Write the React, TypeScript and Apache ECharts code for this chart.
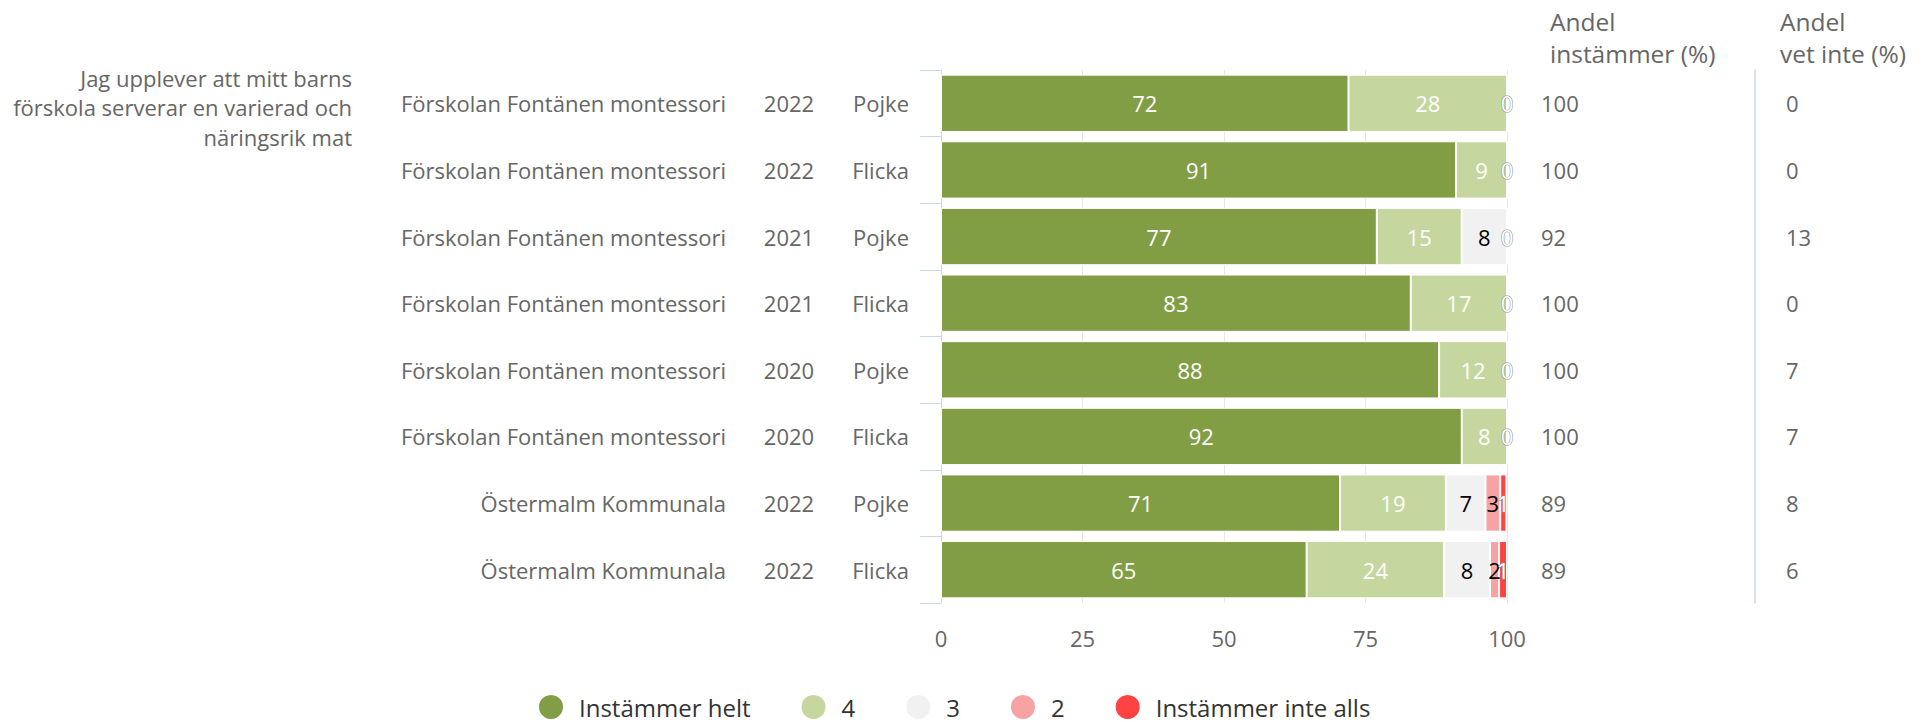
import React, { useEffect, useRef } from "react";
import * as echarts from "echarts";

const schools = [
  "Förskolan Fontänen montessori",
  "Förskolan Fontänen montessori",
  "Förskolan Fontänen montessori",
  "Förskolan Fontänen montessori",
  "Förskolan Fontänen montessori",
  "Förskolan Fontänen montessori",
  "Östermalm Kommunala",
  "Östermalm Kommunala",
];
const years = ["2022", "2022", "2021", "2021", "2020", "2020", "2022", "2022"];
const genders = ["Pojke", "Flicka", "Pojke", "Flicka", "Pojke", "Flicka", "Pojke", "Flicka"];

const seriesNames = ["Instämmer helt", "4", "3", "2", "Instämmer inte alls"];
const helt = [72, 91, 77, 83, 88, 92, 70.5, 64.6];
const fyra = [28, 9, 15, 17, 12, 8, 18.7, 24.3];
const tre = [0, 0, 8, 0, 0, 0, 7.0, 8.1];
const tva = [0, 0, 0, 0, 0, 0, 2.6, 1.6];
const inteAlls = [0, 0, 0, 0, 0, 0, 1.1, 1.4];

const andelInstammer = [100, 100, 92, 100, 100, 100, 89, 89];
const andelVetInte = [0, 0, 13, 0, 7, 7, 8, 6];

const xTicks = [0, 25, 50, 75, 100];

const question = "Jag upplever att mitt barns\nförskola serverar en varierad och\nnäringsrik mat";
const header1 = "Andel\ninstämmer (%)";
const header2 = "Andel\nvet inte (%)";

const colors = ["#829e45", "#c5d79f", "#f1f1f1", "#f8a3a3", "#ff4343"];
const FONT = "Open Sans";

export default function App() {
  const ref = useRef<HTMLDivElement>(null);
  useEffect(() => {
    document.body.style.margin = "0";
    const chart = echarts.init(ref.current!, null, { renderer: "svg" });
    const values = [helt, fyra, tre, tva, inteAlls];
    const labelColors = ["#ffffff", "#ffffff", "#000000", "#000000", "#ffffff"];
    const series = values.map((arr, si) => ({
      type: "bar",
      name: seriesNames[si],
      stack: "total",
      barCategoryGap: "14%",
      yAxisIndex: 0,
      data: arr,
      itemStyle: { color: colors[si], borderColor: "#ffffff", borderWidth: 1 },
      label: {
        show: true,
        position: "inside",
        fontFamily: FONT,
        fontSize: 22,
        color: labelColors[si],
        textBorderColor: si === 4 ? "#888888" : "transparent",
        textBorderWidth: si === 4 ? 1 : 0,
        formatter: (p: any) => {
          const v = Math.round(p.value);
          if (v === 0 && si !== 4) return "";
          return String(v);
        },
      },
    }));

    chart.setOption({
      animation: false,
      grid: { left: 941, right: 422, top: 70, bottom: 119, containLabel: false },
      legend: {
        data: seriesNames,
        left: 537,
        top: 693,
        padding: 0,
        icon: "circle",
        itemWidth: 26,
        itemHeight: 26,
        itemGap: 49,
        textStyle: { fontFamily: FONT, fontSize: 24, color: "#333333", padding: [0, 0, 0, 10] },
      },
      xAxis: {
        type: "value",
        min: xTicks[0],
        max: xTicks[xTicks.length - 1],
        interval: 25,
        axisLine: { show: false },
        axisTick: { show: false },
        splitLine: { show: true, lineStyle: { color: "#e6e6e6", width: 1 } },
        axisLabel: { fontFamily: FONT, fontSize: 22, color: "#666666", margin: 24 },
      },
      yAxis: [
        {
          type: "category",
          inverse: true,
          data: schools.map((_, i) => String(i)),
          axisLine: { show: true, lineStyle: { color: "#ccd6eb", width: 1 } },
          axisTick: { show: true, length: 21, lineStyle: { color: "#ccd6eb" } },
          axisLabel: {
            margin: 32,
            formatter: (_v: string, i: number) =>
              `{a|${schools[i]}}{b|${years[i]}}{c|${genders[i]}}`,
            rich: {
              a: { fontFamily: FONT, fontSize: 22, color: "#666666", padding: [0, 33, 0, 0] },
              b: { fontFamily: FONT, fontSize: 22, color: "#666666", width: 60, align: "center" },
              c: { fontFamily: FONT, fontSize: 22, color: "#666666", width: 90, align: "right" },
            },
          },
        },
        {
          type: "category",
          inverse: true,
          position: "right",
          data: schools.map((_, i) => String(i)),
          axisLine: { show: false },
          axisTick: { show: false },
          axisLabel: {
            margin: 34,
            align: "left",
            formatter: (_v: string, i: number) => `{a|${andelInstammer[i]}}{b|${andelVetInte[i]}}`,
            rich: {
              a: { fontFamily: FONT, fontSize: 22, color: "#666666", width: 245, align: "left" },
              b: { fontFamily: FONT, fontSize: 22, color: "#666666", align: "left" },
            },
          },
        },
        {
          type: "category",
          inverse: true,
          position: "right",
          offset: 248,
          data: schools.map((_, i) => String(i)),
          axisLine: { show: true, lineStyle: { color: "#ccd6eb", width: 1.5 } },
          axisTick: { show: false },
          axisLabel: { show: false },
        },
      ],
      graphic: [
        {
          type: "text",
          x: 352,
          y: 63,
          style: {
            text: question,
            align: "right",
            verticalAlign: "top",
            lineHeight: 29.5,
            fontFamily: FONT,
            fontSize: 22,
            fill: "#666666",
          },
        },
        {
          type: "text",
          x: 1550,
          y: 5,
          style: {
            text: header1,
            align: "left",
            verticalAlign: "top",
            lineHeight: 32,
            fontFamily: FONT,
            fontSize: 24.5,
            fill: "#666666",
          },
        },
        {
          type: "text",
          x: 1780,
          y: 5,
          style: {
            text: header2,
            align: "left",
            verticalAlign: "top",
            lineHeight: 32,
            fontFamily: FONT,
            fontSize: 24.5,
            fill: "#666666",
          },
        },
      ],
      series,
    });
    return () => chart.dispose();
  }, []);
  return <div ref={ref} style={{ width: 1929, height: 722 }} />;
}
